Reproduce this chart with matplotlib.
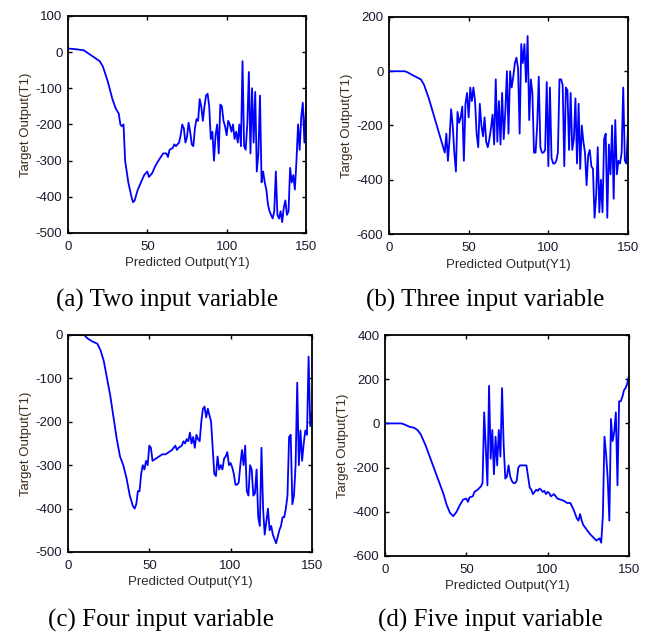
import matplotlib
matplotlib.use('Agg')
import matplotlib.pyplot as plt

plt.rcParams['axes.unicode_minus'] = False

# (a) two input variables
xa = [0, 5, 10, 15, 20, 22, 25, 28, 30, 32, 33, 34, 35, 36, 38, 40, 41, 42, 44, 46,
      48, 50, 51, 53, 55, 57, 60, 62, 63, 64, 66, 67, 68, 70, 71, 72, 73, 74, 75, 76,
      77, 78, 79, 80, 81, 82, 83, 84, 85, 86, 87, 88, 89, 90, 91, 92, 93, 94, 95, 96,
      97, 98, 99, 100, 101, 102, 103, 104, 105, 106, 107, 108, 109, 110, 111, 112, 113, 114, 115, 116,
      117, 118, 119, 120, 121, 122, 123, 124, 125, 126, 127, 128, 129, 130, 131, 132, 133, 134, 135, 136,
      137, 138, 139, 140, 141, 142, 143, 144, 145, 146, 147, 148, 149, 150]
ya = [10, 8, 5, -10, -25, -40, -80, -130, -155, -170, -200, -205, -200, -300, -360, -400, -415, -410, -380, -360,
      -340, -330, -345, -335, -315, -300, -280, -280, -290, -270, -265, -255, -260, -250, -230, -200, -210, -250, -235, -195,
      -220, -255, -260, -210, -185, -190, -130, -150, -190, -150, -120, -115, -150, -240, -220, -300, -230, -200, -280, -145,
      -150, -190, -205, -230, -190, -200, -220, -200, -240, -220, -250, -200, -260, -25, -260, -270, -200, -55, -280, -100,
      -250, -110, -330, -280, -120, -360, -330, -360, -380, -420, -440, -450, -460, -440, -330, -450, -460, -440, -470, -430,
      -410, -450, -440, -320, -360, -340, -380, -300, -200, -270, -180, -140, -250, -150]

# (b) three input variables
xb = [0, 5, 10, 12, 15, 20, 22, 25, 28, 30, 33, 35, 36, 37, 38, 39, 40, 41, 42, 43,
      44, 45, 46, 47, 48, 49, 50, 51, 52, 53, 54, 55, 56, 57, 58, 59, 60, 61, 62, 63,
      64, 65, 66, 67, 68, 69, 70, 71, 72, 73, 74, 75, 76, 77, 78, 79, 80, 81, 82, 83,
      84, 85, 86, 87, 88, 89, 90, 91, 92, 93, 94, 95, 96, 97, 98, 99, 100, 101, 102, 103,
      104, 105, 106, 107, 108, 109, 110, 111, 112, 113, 114, 115, 116, 117, 118, 119, 120, 121, 122, 123,
      124, 125, 126, 127, 128, 129, 130, 131, 132, 133, 134, 135, 136, 137, 138, 139, 140, 141, 142, 143,
      144, 145, 146, 147, 148, 149, 150]
yb = [0, 0, 0, -5, -15, -30, -50, -100, -160, -200, -260, -300, -230, -330, -250, -140, -200, -300, -370, -150,
      -190, -170, -130, -330, -120, -80, -170, -60, -110, -60, -110, -230, -280, -120, -200, -240, -170, -260, -280, -250,
      -210, -160, -270, -30, -260, -110, -270, -80, -250, -150, 0, -230, 0, -60, -20, 30, 50, 10, -230, 100,
      30, 100, -40, 130, -180, -30, -80, -300, -300, -200, -20, -280, -300, -300, -290, -40, -350, -60, -320, -340,
      -340, -330, -300, -30, -30, -50, -350, -60, -70, -290, -80, -290, -250, -100, -340, -120, -360, -200, -260, -300,
      -420, -310, -290, -350, -360, -540, -460, -280, -520, -400, -520, -250, -230, -540, -270, -380, -200, -470, -180, -380,
      -330, -340, -300, -60, -330, -340, -210]

# (c) four input variables
xc = [0, 5, 10, 12, 15, 18, 20, 22, 24, 26, 28, 30, 32, 34, 36, 38, 40, 41, 42, 43,
      44, 45, 46, 47, 48, 49, 50, 51, 52, 54, 56, 58, 60, 62, 64, 66, 67, 68, 70, 71,
      72, 73, 74, 75, 76, 77, 78, 79, 80, 81, 82, 83, 84, 85, 86, 87, 88, 89, 90, 91,
      92, 93, 94, 95, 96, 97, 98, 99, 100, 101, 102, 103, 104, 105, 106, 107, 108, 109, 110, 111,
      112, 113, 114, 115, 116, 117, 118, 119, 120, 121, 122, 123, 124, 125, 126, 127, 128, 129, 130, 131,
      132, 133, 134, 135, 136, 137, 138, 139, 140, 141, 142, 143, 144, 145, 146, 147, 148, 149, 150]
yc = [0, 0, 0, -8, -15, -20, -35, -60, -100, -140, -190, -240, -280, -300, -330, -370, -395, -400, -390, -360,
      -360, -320, -300, -310, -290, -300, -255, -260, -290, -285, -280, -275, -275, -270, -265, -255, -265, -260, -255, -245,
      -250, -240, -245, -225, -250, -235, -260, -230, -240, -245, -200, -170, -165, -190, -170, -185, -200, -260, -320, -325,
      -280, -310, -300, -310, -285, -280, -270, -300, -295, -305, -320, -345, -345, -340, -300, -265, -300, -255, -360, -370,
      -300, -310, -370, -365, -310, -420, -440, -260, -400, -460, -430, -400, -450, -440, -460, -470, -480, -465, -450, -440,
      -420, -420, -400, -370, -235, -230, -390, -370, -300, -110, -300, -220, -290, -250, -220, -230, -50, -210, -180]

# (d) five input variables
xd = [0, 5, 10, 12, 15, 18, 20, 22, 25, 28, 30, 33, 36, 38, 40, 42, 44, 46, 48, 50,
      51, 52, 54, 55, 57, 59, 60, 61, 62, 63, 64, 65, 66, 67, 68, 69, 70, 71, 72, 73,
      74, 75, 76, 77, 78, 79, 80, 81, 82, 83, 84, 86, 87, 88, 89, 90, 91, 92, 93, 94,
      95, 96, 97, 98, 99, 100, 101, 102, 104, 106, 108, 110, 112, 114, 116, 118, 119, 120, 121, 122,
      124, 126, 128, 130, 132, 133, 134, 135, 136, 137, 138, 139, 140, 141, 142, 143, 144, 145, 146, 147,
      148, 149, 150]
yd = [0, 0, 0, -5, -15, -20, -30, -50, -100, -160, -200, -260, -320, -370, -405, -420, -400, -370, -345, -340,
      -355, -335, -330, -310, -300, -285, -270, 50, -110, -280, 170, -160, -30, -230, -60, -190, -30, -150, 160, -100,
      -250, -240, -190, -240, -260, -270, -270, -260, -200, -190, -190, -190, -190, -240, -290, -300, -320, -310, -300, -305,
      -295, -300, -310, -305, -320, -310, -315, -330, -320, -340, -345, -350, -360, -360, -390, -430, -440, -410, -440, -460,
      -480, -500, -515, -530, -520, -540, -420, -60, -140, -250, -440, 20, -80, -40, 50, -280, 100, 100, 120, 150,
      160, 180, 215]

panels = [
    (xa, ya, (-500, 100), [-500, -400, -300, -200, -100, 0, 100], '(a) Two input variable'),
    (xb, yb, (-600, 200), [-600, -400, -200, 0, 200], '(b) Three input variable'),
    (xc, yc, (-500, 0), [-500, -400, -300, -200, -100, 0], '(c) Four input variable'),
    (xd, yd, (-600, 400), [-600, -400, -200, 0, 200, 400], '(d) Five input variable'),
]

# axes rectangles in figure fraction
rects = [
    [0.1043, 0.6354, 0.365, 0.3396],
    [0.5966, 0.6338, 0.3666, 0.3396],
    [0.1043, 0.1362, 0.374, 0.3396],
    [0.5905, 0.1299, 0.374, 0.3458],
]
caption_pos = [(0.256, 0.5305), (0.744, 0.5305), (0.247, 0.0285), (0.752, 0.0285)]

fig = plt.figure(figsize=(6.52, 6.39), dpi=100)

for (x, y, ylim, yticks, caption), rect, cpos in zip(panels, rects, caption_pos):
    ax = fig.add_axes(rect)
    ax.plot(x, y, color='#0000ff', linewidth=1.3)
    ax.set_xlim(0, 150)
    ax.set_ylim(*ylim)
    ax.set_xticks([0, 50, 100, 150])
    ax.set_yticks(yticks)
    ax.tick_params(direction='in', top=True, right=True, length=3, width=1,
                   labelsize=9.5)
    ax.tick_params(axis='x', pad=6)
    ax.tick_params(axis='y', pad=4)
    for lab in ax.get_xticklabels() + ax.get_yticklabels():
        lab.set_family('Liberation Sans')
        lab.set_color('#1a1a2e')
    for sp in ax.spines.values():
        sp.set_linewidth(1.3)
    ax.set_xlabel('Predicted Output(Y1)', family='Liberation Sans', fontsize=9.5,
                  color='#2a2a2a', labelpad=3)
    ax.set_ylabel('Target Output(T1)', family='Liberation Sans', fontsize=9.5,
                  color='#3a2a1a', labelpad=3)
    fig.text(cpos[0], cpos[1], caption, family='Liberation Serif', fontsize=18,
             ha='center', va='center', color='black')

fig.savefig('out.png', dpi=100)
